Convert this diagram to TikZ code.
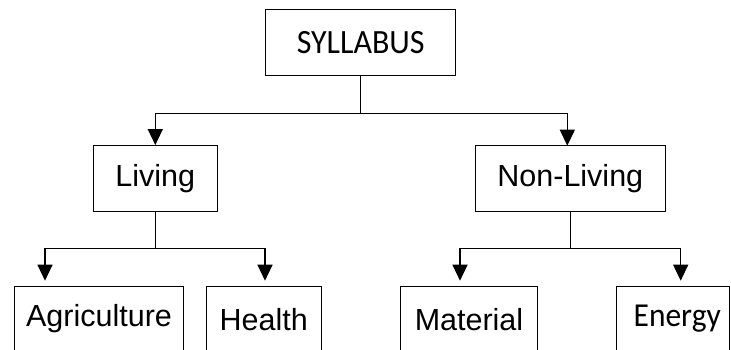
\documentclass[tikz,border=0pt]{standalone}
\usepackage{fontspec}
\setmainfont{Liberation Sans}
\newfontfamily\titlefont[FakeStretch=0.94]{Carlito}
\usetikzlibrary{arrows.meta}
\begin{document}
\begin{tikzpicture}[x=1pt,y=-1pt,
  line width=1.3pt,
  box/.style={draw, rectangle, inner sep=0pt, font=\fontsize{30.5}{36}\selectfont},
  topbox/.style={box, minimum height=66pt},
  leafbox/.style={box, anchor=north, inner ysep=18pt, text height=22.3pt, text depth=60pt},
  arr/.style={-{Triangle[length=16pt,width=15pt]}}]
\useasboundingbox (0,0) rectangle (731,350);
\clip (0,0) rectangle (731,350);

% top level
\node[topbox, minimum width=190pt, font=\titlefont\fontsize{34}{40}\selectfont] (syl) at (360.7,42.2) {SYLLABUS};

% second level
\node[topbox, minimum width=124pt] (liv) at (155.3,178.7) {Living};
\node[topbox, minimum width=190pt] (non) at (570.3,178.7) {Non-Living};

% leaves (boxes run past the lower edge)
\node[leafbox, minimum width=169.4pt] (agri) at (99,285.7) {Agriculture};
\node[leafbox, minimum width=115pt, text height=26.3pt] (heal) at (263.8,285.7) {Health};
\node[leafbox, minimum width=136.6pt, text height=26.3pt] (mat) at (469,285.7) {Material};
\node[leafbox, minimum width=113.1pt, font=\titlefont\fontsize{33.5}{39}\selectfont] (ene) at (673.25,285.7) {\hspace*{8pt}Energy};

% branch points and arrow ends
\coordinate (sb) at (360.7,113.3);
\coordinate (nonin) at (567.3,145.7);
\coordinate (lb) at (155.3,248.3);
\coordinate (nb) at (570.3,248.3);
\coordinate (agriin) at (45,280.7);
\coordinate (healin) at (265,280.7);
\coordinate (matin) at (460,280.7);
\coordinate (enein) at (680.7,280.7);

% connectors
\draw[arr] (syl.south) -- (sb) -| (liv.north);
\draw[arr] (sb) -| (nonin);
\draw[arr] (liv.south) -- (lb) -| (agriin);
\draw[arr] (lb) -| (healin);
\draw[arr] (non.south) -- (nb) -| (matin);
\draw[arr] (nb) -| (enein);
\end{tikzpicture}
\end{document}
